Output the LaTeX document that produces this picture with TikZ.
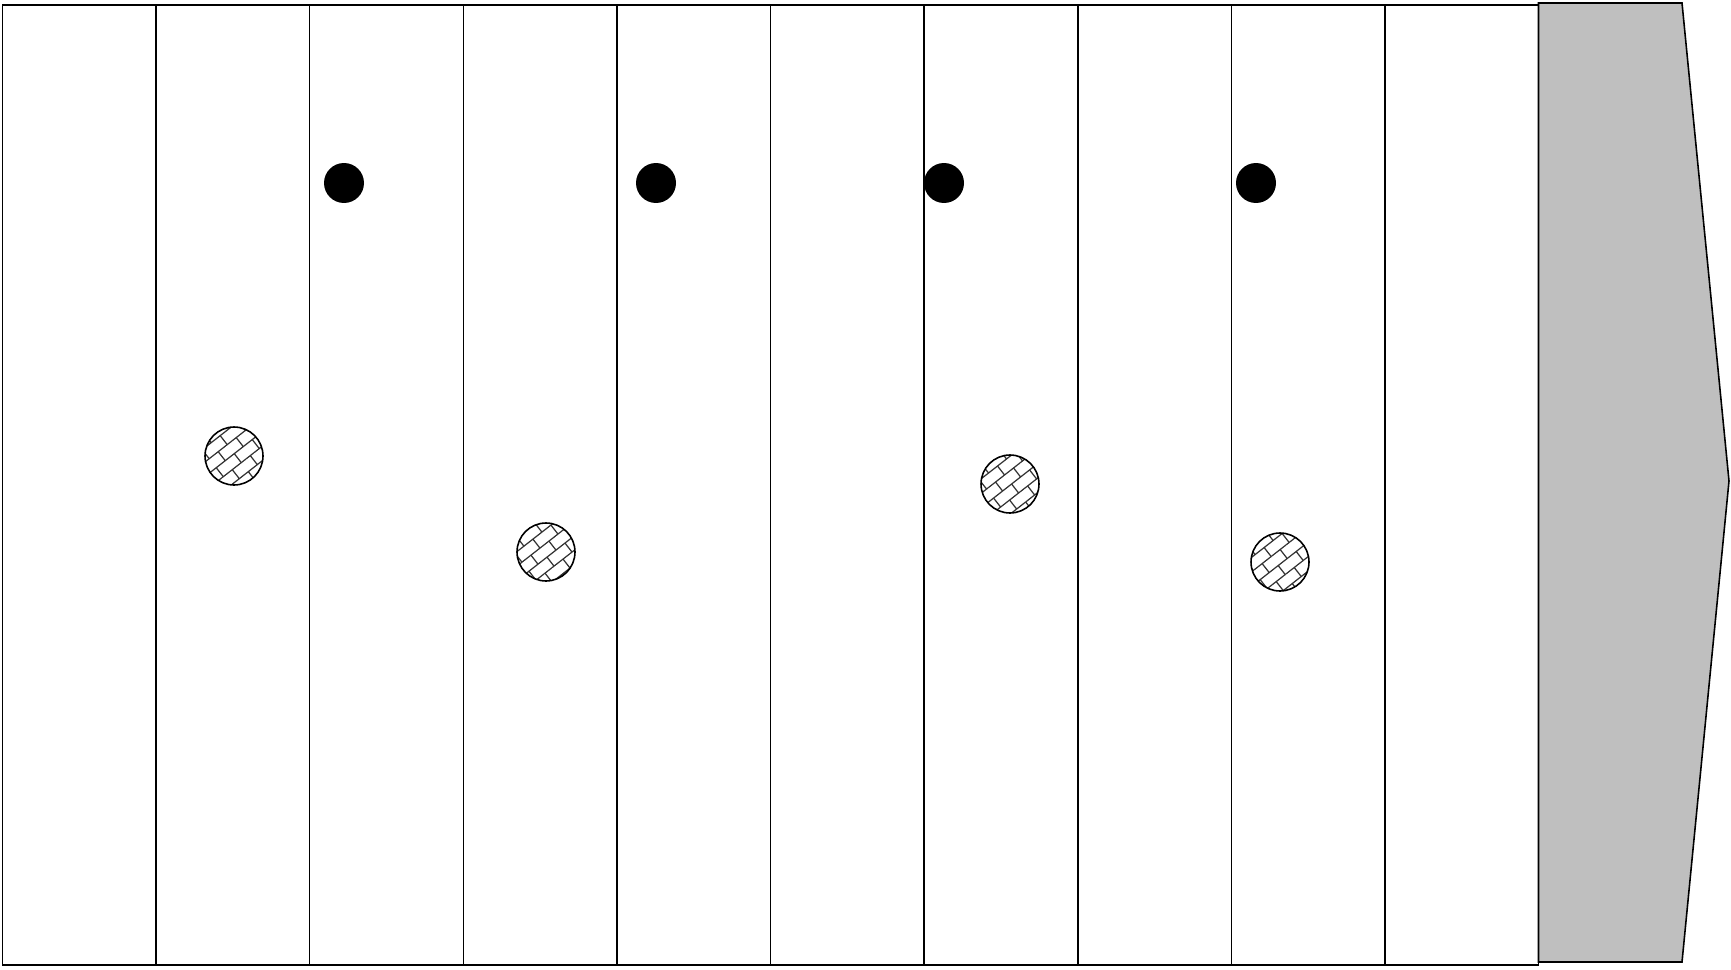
\documentclass[tikz,border=0pt]{standalone}
\usepackage{xcolor}
\usepackage{tikz}
\usetikzlibrary{positioning, patterns.meta, shapes.geometric, calc}

\tikzdeclarepattern{
    name=slantbricks,
    type=uncolored,
    bottom left={(-.5pt,-.5pt)},
    top right={(13.5pt,13.5pt)},
    tile size={(13pt,13pt)},
    tile transformation={rotate=38},
    code={
        \draw [line width=0.7pt] (0,0) -- (13pt,0) (0,6.5pt) -- (13pt,6.5pt)
            (0,0) -- (0,6.5pt) (6.5pt,6.5pt) -- (6.5pt,13pt);
    }
}

\begin{document}
\begin{tikzpicture}[x=0.02cm, y=-0.02cm, line width=0.9pt,
        stone/.style={draw, circle, inner sep=0pt, minimum size=1.16cm, pattern={slantbricks}, pattern color=black!80},
        pebble/.style={fill=black, circle, inner sep=0pt, minimum size=0.8cm}]
    \useasboundingbox (0,0) rectangle (1731,970);
    % strips
    \draw (2.5,5) rectangle (1538.5,965);
    \foreach \i in {1,...,9}
        \draw ({2.5+153.6*\i},5) -- ({2.5+153.6*\i},965);
    % gray head
    \draw [fill=gray!50] (1538.5,3) -- (1682,3) -- (1729,481) -- (1682,962) -- (1538.5,962) -- cycle;
    % black dots
    \node [pebble] (dotA) at (344,183) {};
    \node [pebble] (dotB) at (656,183) {};
    \node [pebble] (dotC) at (944,183) {};
    \node [pebble] (dotD) at (1256,183) {};
    % hatched circles
    \node [stone] (stoneA) at (234,456) {};
    \node [stone] (stoneB) at (546,552) {};
    \node [stone] (stoneC) at (1010,484) {};
    \node [stone] (stoneD) at (1280,562) {};
\end{tikzpicture}
\end{document}
